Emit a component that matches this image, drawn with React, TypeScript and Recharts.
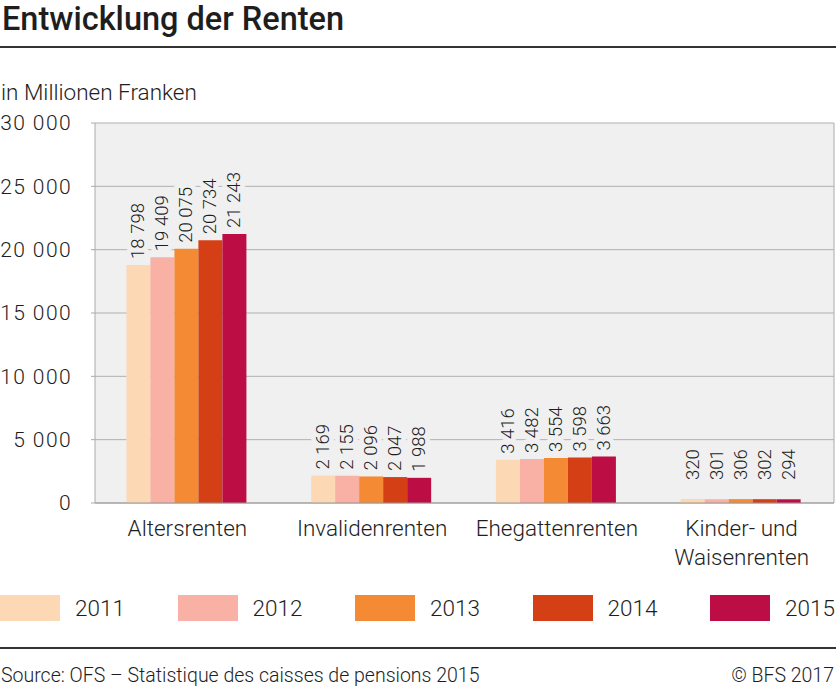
import { BarChart, Bar, XAxis, YAxis, CartesianGrid, LabelList } from "recharts"

const categories = ["Altersrenten", "Invalidenrenten", "Ehegattenrenten", "Kinder- und Waisenrenten"]
const years = ["2011", "2012", "2013", "2014", "2015"]
const v2011 = [18798, 2169, 3416, 320]
const v2012 = [19409, 2155, 3482, 301]
const v2013 = [20075, 2096, 3554, 306]
const v2014 = [20734, 2047, 3598, 302]
const v2015 = [21243, 1988, 3663, 294]
const yTicks = [0, 5000, 10000, 15000, 20000, 25000, 30000]

const COLORS = ["#fdd8b4", "#f9b0a5", "#f58a35", "#d43f15", "#bc0e45"]
const FONT = "Roboto, 'Noto Sans', sans-serif"
const INK = "#1e1e1e"

const series = [v2011, v2012, v2013, v2014, v2015]
const data = categories.map((name, i) => {
  const row: Record<string, string | number> = { name }
  years.forEach((y, k) => {
    row["y" + y] = series[k][i]
  })
  return row
})

function fmt(v: number | string): string {
  return String(v).replace(/\B(?=(\d{3})+(?!\d))/g, " ")
}

function ValueLabel(props: any) {
  const { x, y, width, height, value } = props
  const cx = Number(x) + Number(width) / 2
  const base = Number(y) + Number(height)
  const ty = Math.min(Number(y) - 6, base - 23)
  return (
    <text
      x={cx}
      y={ty}
      transform={`rotate(-90 ${cx} ${ty})`}
      textAnchor="start"
      dominantBaseline="central"
      fontSize={18.5}
      fontFamily={FONT}
      fontWeight={300}
      fill={INK}
      stroke="#f0f0f0"
      strokeWidth={10}
      strokeLinejoin="round"
      paintOrder="stroke"
    >
      {fmt(value)}
    </text>
  )
}

function CatTick(props: any) {
  const { x, y, payload } = props
  const lines = String(payload.value).split(/(?<=und) /)
  return (
    <text x={x} y={y} textAnchor="middle" fontSize={22.5} fontFamily={FONT} fontWeight={300} fill={INK}>
      {lines.map((l, i) => (
        <tspan key={i} x={x} dy={i === 0 ? 33 : 29}>
          {l}
        </tspan>
      ))}
    </text>
  )
}

const yTick = { fontSize: 21, fontFamily: FONT, fontWeight: 300, fill: INK, letterSpacing: 1.4 }

export default function App() {
  return (
    <div style={{ position: "absolute", left: 0, top: 0, width: 836, height: 688, background: "#fff", fontFamily: FONT, color: INK }}>
      <div style={{ position: "absolute", left: 2, top: 3, fontSize: 32.5, lineHeight: "32px", fontWeight: 500, whiteSpace: "nowrap" }}>
        Entwicklung der Renten
      </div>
      <div style={{ position: "absolute", left: 0, top: 46, width: 836, height: 2, background: "#333" }} />
      <div style={{ position: "absolute", left: 1, top: 80, fontSize: 22.5, lineHeight: "24px", fontWeight: 300 }}>
        in Millionen Franken
      </div>
      <div style={{ position: "absolute", left: 0, top: 0 }}>
        <BarChart
          width={836}
          height={580}
          data={data}
          margin={{ top: 123, right: 1, left: 0, bottom: 0 }}
          barCategoryGap="17%"
          barGap={0}
        >
          <CartesianGrid vertical={false} stroke="#b0b0b0" fill="#f0f0f0" />
          <XAxis
            dataKey="name"
            tick={<CatTick />}
            tickLine={false}
            tickSize={0}
            tickMargin={0}
            interval={0}
            height={77}
            axisLine={{ stroke: "#999" }}
          />
          <YAxis
            domain={[0, 30000]}
            ticks={yTicks}
            tickFormatter={fmt}
            tick={yTick}
            tickSize={4}
            tickMargin={19}
            tickLine={{ stroke: "#aaa" }}
            axisLine={{ stroke: "#aaa" }}
            width={95}
          />
          <YAxis
            yAxisId="r"
            orientation="right"
            domain={[0, 30000]}
            tick={false}
            tickLine={false}
            axisLine={{ stroke: "#aaa" }}
            width={1}
          />
          {years.map((y, k) => (
            <Bar key={y} dataKey={"y" + y} name={y} fill={COLORS[k]} isAnimationActive={false}>
              <LabelList dataKey={"y" + y} content={<ValueLabel />} />
            </Bar>
          ))}
        </BarChart>
      </div>
      {years.map((y, k) => (
        <div key={y} style={{ position: "absolute", left: k * 177.5, top: 595, height: 26, display: "flex", alignItems: "center" }}>
          <div style={{ width: 60, height: 26, background: COLORS[k] }} />
          <div style={{ marginLeft: 15, fontSize: 22.5, fontWeight: 300 }}>{y}</div>
        </div>
      ))}
      <div style={{ position: "absolute", left: 0, top: 647, width: 836, height: 2, background: "#333" }} />
      <div style={{ position: "absolute", left: 1, top: 664, fontSize: 19.5, lineHeight: "24px", fontWeight: 300 }}>
        Source: OFS – Statistique des caisses de pensions 2015
      </div>
      <div style={{ position: "absolute", right: 2, top: 664, fontSize: 19.5, lineHeight: "24px", fontWeight: 300 }}>
        © BFS 2017
      </div>
    </div>
  )
}
